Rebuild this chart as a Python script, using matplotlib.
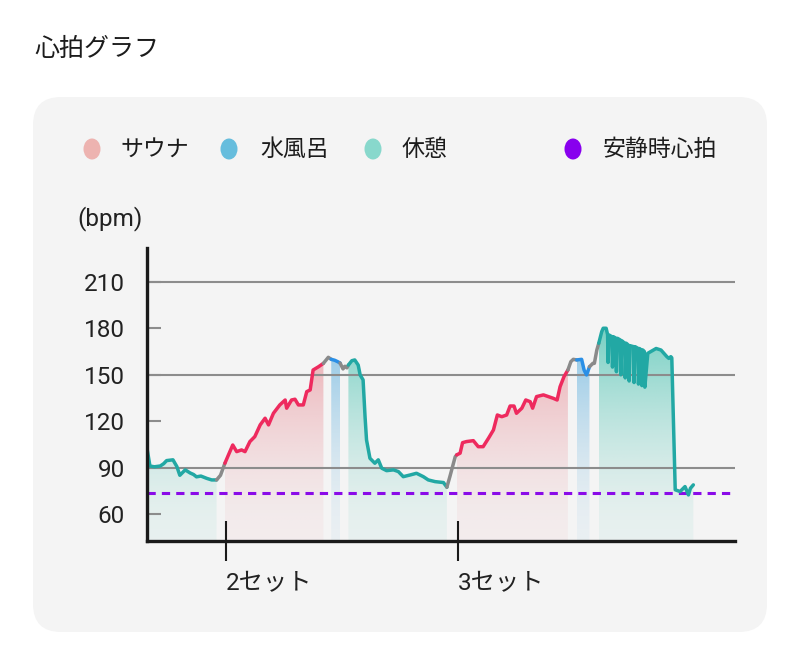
import numpy as np
import matplotlib
matplotlib.use("Agg")
import matplotlib.pyplot as plt
from matplotlib.patches import FancyBboxPatch, Ellipse, Polygon

plt.rcParams['font.family'] = ['Roboto', 'Noto Sans CJK JP', 'DejaVu Sans']

# time axis in minutes, heart rate in bpm
rest1_t = [0.0, 0.6, 1.5, 2.7, 3.4, 4.0, 5.3, 6.1, 6.7, 7.8, 8.8, 9.5, 10.1, 11.0, 12.2, 13.2, 14.2]
rest1_bpm = [102.5, 91, 90.5, 91, 92.5, 94.5, 95, 90.6, 85, 88.5, 86.5, 85.5, 84, 84.5, 83, 82, 82]
gap1_t = [14.2, 15.0, 15.9]
gap1_bpm = [82, 85, 92.8]
sauna1_t = [15.9, 16.6, 17.5, 18.3, 19.3, 20.0, 21.0, 22.0, 23.1, 24.1, 24.8, 25.8, 27.1,
            28.2, 28.5, 29.5, 30.2, 30.9, 31.9, 32.6, 33.3, 33.9, 35.0, 36.0]
sauna1_bpm = [92.8, 98, 104.6, 100.3, 101.4, 100.3, 106.8, 110, 117.6, 121.9, 117.6, 125.1, 130.5,
              133.7, 128.4, 133.7, 134.2, 130.5, 130.5, 139.1, 140.2, 153.1, 155.2, 157.4]
gap2_t = [36.0, 37.0, 37.6]
gap2_bpm = [157.4, 161.3, 160]
cold1_t = [37.6, 38.3, 38.9, 39.4]
cold1_bpm = [160, 159.4, 158.5, 157.6]
gap3_t = [39.4, 40.0, 40.4, 40.8, 41.1]
gap3_bpm = [157.6, 153.8, 155.5, 154.5, 156.3]
rest2_t = [41.1, 41.8, 42.4, 43.1, 43.5, 44.1, 44.5, 44.8, 45.5, 46.5, 47.2, 47.9, 48.9, 50.3,
           51.3, 52.3, 53.7, 55.0, 56.4, 57.4, 58.8, 60.5, 61.2]
rest2_bpm = [156.3, 159.1, 159.6, 156.3, 149.9, 146.7, 122.9, 107.9, 96, 92.8, 95, 89.6, 88, 88.5,
             87.4, 84.1, 85.2, 86.3, 84.1, 82, 80.9, 80.3, 77.3]
gap4_t = [61.2, 61.8, 62.9, 63.2]
gap4_bpm = [77.3, 84, 97, 98.2]
sauna2_t = [63.2, 63.9, 64.4, 65.2, 66.6, 67.6, 68.6, 69.7, 70.7, 71.5, 72.4, 73.4, 74.1, 74.9,
            75.4, 76.5, 77.3, 78.2, 78.7, 79.5, 80.9, 81.9, 82.9, 83.7, 84.3, 85.1, 85.9]
sauna2_bpm = [98.2, 99.3, 106.1, 106.8, 107.4, 103.5, 103.5, 109, 114.3, 124, 122.9, 124, 129.8, 129.8,
              125.1, 128.4, 133.7, 132.6, 128.4, 135.9, 137, 135.9, 134.8, 133.7, 142.3, 148.8, 153.1]
gap5_t = [85.9, 86.5, 87.0, 87.7]
gap5_bpm = [153.1, 158.5, 160, 159.6]
cold2_t = [87.7, 88.7, 89.2, 89.7, 90.3]
cold2_bpm = [159.6, 160, 153.1, 149.9, 155.2]
gap6_t = [90.3, 91.0, 91.3, 91.8, 92.2]
gap6_bpm = [155.2, 157.4, 157.4, 166, 170.4]
rest3_t = [92.2, 92.8, 93.1, 93.7, 94.0, 94.1, 94.3, 94.9, 95.0, 95.2, 95.7, 95.8, 96.0, 96.6, 96.7,
           96.9, 97.5, 97.6, 97.8, 98.3, 98.4, 98.6, 99.3, 99.4, 99.6, 100.2, 100.3, 100.5, 100.9,
           101.0, 101.2, 101.5, 101.6, 102.2, 103.9, 104.9, 106.1, 106.5, 106.9, 107.1, 107.8,
           108.8, 109.8, 110.5, 110.9, 111.5]
rest3_bpm = [170.4, 177.9, 180.1, 180.1, 176, 158, 175.7, 174.6, 155, 174.6, 173.6, 152, 173.6, 172.5, 150,
             172, 170.4, 148, 170.4, 169, 146, 168.8, 168.2, 145, 168.2, 167.1, 144, 167, 166,
             143, 166, 165, 142, 163.9, 167, 166, 161.7, 160.6, 161.7, 161, 75.6,
             74.5, 77.7, 72.3, 76.6, 78.8]

resting_hr = 73.5
set_ticks = [16.1, 63.5]
set_labels = ['2セット', '3セット']
y_ticks = [60, 90, 120, 150, 180, 210]
grid_y = [90, 150, 210]

legend_labels = ['サウナ', '水風呂', '休憩', '安静時心拍']
legend_colors = ['#edb3b0', '#66bddd', '#88d8cc', '#8800ee']

line_colors = {'sauna': '#ee2a5e', 'cold': '#2a8fe6', 'rest': '#22a8a4', 'gap': '#8a8a8a'}
fill_colors = {'sauna': '#e8868f', 'cold': '#5aaede', 'rest': '#45c2b0'}

segments = [
    ('rest', rest1_t, rest1_bpm), ('gap', gap1_t, gap1_bpm),
    ('sauna', sauna1_t, sauna1_bpm), ('gap', gap2_t, gap2_bpm),
    ('cold', cold1_t, cold1_bpm), ('gap', gap3_t, gap3_bpm),
    ('rest', rest2_t, rest2_bpm), ('gap', gap4_t, gap4_bpm),
    ('sauna', sauna2_t, sauna2_bpm), ('gap', gap5_t, gap5_bpm),
    ('cold', cold2_t, cold2_bpm), ('gap', gap6_t, gap6_bpm),
    ('rest', rest3_t, rest3_bpm),
]

YMIN, YMAX = 42.5, 232
XMIN, XMAX = 0, 120

fig = plt.figure(figsize=(8, 6.59), dpi=100)
fig.patch.set_facecolor('white')

# page decorations in pixel coordinates
bg = fig.add_axes([0, 0, 1, 1])
bg.set_xlim(0, 800)
bg.set_ylim(659, 0)
bg.axis('off')
bg.add_patch(FancyBboxPatch((33 + 28, 97 + 28), 734 - 56, 535 - 56,
                            boxstyle='round,pad=28', facecolor='#f4f4f4', edgecolor='none'))
bg.text(34, 49, '心拍グラフ', fontsize=18, va='center', ha='left', color='#1c1c1c')
for cx, lx, lab, col in zip([92, 229, 373, 573], [120, 260, 402, 603], legend_labels, legend_colors):
    bg.add_patch(Ellipse((cx, 149), 17, 21, facecolor=col, edgecolor='none'))
    bg.text(lx, 149, lab, fontsize=16.5, va='center', ha='left', color='#1c1c1c')
bg.text(110, 219, '(bpm)', fontsize=17.5, va='center', ha='center', color='#222222')

ax = fig.add_axes([147 / 800, (659 - 541) / 659, 588 / 800, 293 / 659])
ax.patch.set_alpha(0)


def gradient_fill(t, v, color):
    verts = [(t[0], YMIN)] + list(zip(t, v)) + [(t[-1], YMIN)]
    poly = Polygon(verts, closed=True, facecolor='none', edgecolor='none')
    ax.add_patch(poly)
    ys = np.linspace(YMIN, 190, 200)
    frac = np.clip((ys - YMIN) / (180 - YMIN), 0, 1)
    alpha = 0.07 + 0.65 * frac ** 1.7
    rgba = np.zeros((len(ys), 2, 4))
    rgba[:, :, :3] = matplotlib.colors.to_rgb(color)
    rgba[:, :, 3] = alpha[:, None]
    img = ax.imshow(rgba, extent=[t[0], t[-1], YMIN, 190], origin='lower',
                    aspect='auto', zorder=1, interpolation='bilinear')
    img.set_clip_path(poly)


for kind, t, v in segments:
    if kind != 'gap':
        gradient_fill(t, v, fill_colors[kind])

for gy in grid_y:
    ax.axhline(gy, color='#8c8c8c', lw=1.5, zorder=2)

ax.axhline(resting_hr, color='#8a0be8', lw=2.2, ls=(0, (2.7, 2.0)), zorder=3)

for kind, t, v in segments:
    ax.plot(t, v, color=line_colors[kind], lw=2.5, solid_joinstyle='round',
            solid_capstyle='round', zorder=4)

ax.set_xlim(XMIN, XMAX)
ax.set_ylim(YMIN, YMAX)

for side in ['top', 'right']:
    ax.spines[side].set_visible(False)
for side in ['left', 'bottom']:
    ax.spines[side].set_color('#1a1a1a')
    ax.spines[side].set_linewidth(2.4)
    ax.spines[side].set_zorder(5)

ax.set_yticks(y_ticks)
ax.set_yticklabels([str(y) for y in y_ticks])
ax.tick_params(axis='y', direction='in', length=10, width=1.5, color='#8c8c8c',
               pad=16, labelsize=17.5, labelcolor='#222222')
ax.set_xticks(set_ticks)
ax.set_xticklabels(set_labels, ha='left')
ax.tick_params(axis='x', direction='inout', length=29, width=1.5, color='#1a1a1a',
               pad=8, labelsize=17.5, labelcolor='#222222')

fig.savefig('out.png', dpi=100)
